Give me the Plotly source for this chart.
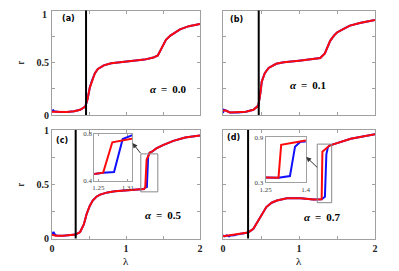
import plotly.graph_objects as go

# ---------------- data ----------------
lam_a_red = [0, 0.1, 0.2, 0.3, 0.38, 0.45, 0.48, 0.51, 0.54, 0.58, 0.62, 0.7, 0.8, 0.95, 1.1, 1.25, 1.37, 1.43, 1.47, 1.5, 1.54, 1.6, 1.73, 1.85, 2.0]
r_a_red = [0.032, 0.028, 0.028, 0.035, 0.05, 0.08, 0.15, 0.26, 0.33, 0.40, 0.44, 0.475, 0.495, 0.51, 0.52, 0.53, 0.55, 0.57, 0.62, 0.67, 0.72, 0.76, 0.82, 0.85, 0.87]
lam_a_blue = [0, 0.015, 0.03, 0.1, 0.2, 0.3, 0.38, 0.45, 0.48, 0.51, 0.54, 0.58, 0.62, 0.7, 0.8, 0.95, 1.1, 1.25, 1.37, 1.43, 1.47, 1.5, 1.54, 1.6, 1.73, 1.85, 2.0]
r_a_blue = [0.03, 0.045, 0.035, 0.028, 0.028, 0.035, 0.05, 0.08, 0.15, 0.26, 0.33, 0.40, 0.44, 0.475, 0.495, 0.51, 0.52, 0.53, 0.55, 0.57, 0.62, 0.67, 0.72, 0.76, 0.82, 0.85, 0.87]

lam_b_red = [0, 0.03, 0.09, 0.2, 0.3, 0.4, 0.465, 0.49, 0.51, 0.55, 0.6, 0.7, 0.8, 1.0, 1.15, 1.28, 1.34, 1.38, 1.41, 1.46, 1.5, 1.6, 1.67, 1.8, 2.0]
r_b_red = [0.04, 0.045, 0.025, 0.025, 0.032, 0.05, 0.09, 0.2, 0.32, 0.40, 0.45, 0.49, 0.505, 0.52, 0.53, 0.545, 0.59, 0.66, 0.71, 0.76, 0.79, 0.83, 0.855, 0.88, 0.91]
lam_b_blue = [0, 0.01, 0.03, 0.09, 0.2, 0.3, 0.4, 0.465, 0.49, 0.51, 0.55, 0.6, 0.7, 0.8, 1.0, 1.15, 1.28, 1.34, 1.38, 1.41, 1.46, 1.5, 1.6, 1.67, 1.8, 2.0]
r_b_blue = [0.02, 0.05, 0.045, 0.025, 0.025, 0.032, 0.05, 0.09, 0.2, 0.32, 0.40, 0.45, 0.49, 0.505, 0.52, 0.53, 0.545, 0.59, 0.66, 0.71, 0.76, 0.79, 0.83, 0.855, 0.88, 0.91]

lam_c_red = [0, 0.05, 0.15, 0.25, 0.32, 0.38, 0.43, 0.47, 0.51, 0.55, 0.6, 0.65, 0.75, 0.85, 1.0, 1.1, 1.2, 1.242, 1.26, 1.2785, 1.30, 1.319, 1.35, 1.41, 1.5, 1.64, 1.8, 2.0]
r_c_red = [0.036, 0.026, 0.025, 0.03, 0.036, 0.06, 0.13, 0.23, 0.30, 0.35, 0.385, 0.405, 0.425, 0.435, 0.442, 0.447, 0.452, 0.457, 0.469, 0.729, 0.758, 0.79, 0.80, 0.83, 0.86, 0.90, 0.93, 0.95]
lam_c_blue = [0, 0.02, 0.04, 0.06, 0.15, 0.25, 0.32, 0.38, 0.43, 0.47, 0.51, 0.55, 0.6, 0.65, 0.75, 0.85, 1.0, 1.1, 1.2, 1.242, 1.26, 1.282, 1.2995, 1.319, 1.35, 1.41, 1.5, 1.64, 1.8, 2.0]
r_c_blue = [0.03, 0.06, 0.035, 0.028, 0.025, 0.03, 0.036, 0.06, 0.13, 0.23, 0.30, 0.35, 0.385, 0.405, 0.425, 0.435, 0.442, 0.447, 0.452, 0.457, 0.469, 0.474, 0.757, 0.79, 0.80, 0.83, 0.86, 0.90, 0.93, 0.95]

lam_d_red = [0, 0.05, 0.1, 0.2, 0.33, 0.4, 0.45, 0.49, 0.53, 0.57, 0.64, 0.71, 0.84, 1.02, 1.19, 1.25, 1.298, 1.308, 1.4, 1.46, 1.68, 2.0]
r_d_red = [0.02, 0.025, 0.03, 0.04, 0.055, 0.09, 0.15, 0.2, 0.25, 0.29, 0.33, 0.35, 0.37, 0.37, 0.36, 0.36, 0.362, 0.80, 0.856, 0.87, 0.92, 0.96]
lam_d_blue = [0, 0.02, 0.05, 0.08, 0.1, 0.15, 0.2, 0.33, 0.4, 0.45, 0.49, 0.53, 0.57, 0.64, 0.71, 0.84, 1.02, 1.19, 1.25, 1.298, 1.341, 1.36, 1.38, 1.4, 1.46, 1.68, 2.0]
r_d_blue = [0.03, 0.02, 0.03, 0.02, 0.028, 0.03, 0.04, 0.055, 0.09, 0.15, 0.2, 0.25, 0.29, 0.33, 0.35, 0.37, 0.37, 0.36, 0.36, 0.362, 0.384, 0.775, 0.84, 0.856, 0.87, 0.92, 0.96]

panel_labels = ["(a)", "(b)", "(c)", "(d)"]
alpha_values = ["0.0", "0.1", "0.5", "0.7"]
critical_lam = [0.46, 0.47, 0.32, 0.33]

x_ticks = [0, 0.5, 1, 1.5, 2]
x_ticktext = ["0", "", "1", "", "2"]
y_ticks = [0, 0.25, 0.5, 0.75, 1]
y_ticktext = ["0", "", "0.5", "", "1"]

RED = "#ff0a0a"
BLUE = "#1010ff"
FRAME = "#a0a0a0"
SERIF = "Liberation Serif, Times New Roman, serif"

# the page body keeps an 8px margin: positions are given in window pixels
OFF = 8
W, H = 391, 263
def px_x(p):
    return (p - OFF) / W
def px_y(p):
    return 1 - (p - OFF) / H

fig = go.Figure()

series = [
    (lam_a_red, r_a_red, lam_a_blue, r_a_blue),
    (lam_b_red, r_b_red, lam_b_blue, r_b_blue),
    (lam_c_red, r_c_red, lam_c_blue, r_c_blue),
    (lam_d_red, r_d_red, lam_d_blue, r_d_blue),
]

main_dom = [
    ([px_x(52), px_x(200)], [px_y(115), px_y(10.5)]),
    ([px_x(223), px_x(375)], [px_y(115), px_y(10.5)]),
    ([px_x(52), px_x(200)], [px_y(238.5), px_y(130)]),
    ([px_x(223), px_x(375)], [px_y(238.5), px_y(130)]),
]

for i, (lr, rr, lb, rb) in enumerate(series):
    xa = "x" if i == 0 else f"x{i+1}"
    ya = "y" if i == 0 else f"y{i+1}"
    fig.add_trace(go.Scatter(x=lb, y=rb, mode="lines", line=dict(color=BLUE, width=2), xaxis=xa, yaxis=ya, showlegend=False))
    fig.add_trace(go.Scatter(x=lr, y=rr, mode="lines", line=dict(color=RED, width=2), xaxis=xa, yaxis=ya, showlegend=False))

fig.add_trace(go.Scatter(x=lam_c_blue, y=r_c_blue, mode="lines", line=dict(color=BLUE, width=2), xaxis="x5", yaxis="y5", showlegend=False))
fig.add_trace(go.Scatter(x=lam_c_red, y=r_c_red, mode="lines", line=dict(color=RED, width=2), xaxis="x5", yaxis="y5", showlegend=False))
fig.add_trace(go.Scatter(x=lam_d_blue, y=r_d_blue, mode="lines", line=dict(color=BLUE, width=2), xaxis="x6", yaxis="y6", showlegend=False))
fig.add_trace(go.Scatter(x=lam_d_red, y=r_d_red, mode="lines", line=dict(color=RED, width=2), xaxis="x6", yaxis="y6", showlegend=False))

tickfont = dict(family=SERIF, size=10, color="#222", weight="bold")
layout = dict(width=W, height=H, margin=dict(l=0, r=0, t=0, b=0, autoexpand=False),
              paper_bgcolor="white", plot_bgcolor="white", showlegend=False)

for i in range(4):
    xd, yd = main_dom[i]
    xn = "xaxis" if i == 0 else f"xaxis{i+1}"
    yn = "yaxis" if i == 0 else f"yaxis{i+1}"
    ya_ref = "y" if i == 0 else f"y{i+1}"
    xa_ref = "x" if i == 0 else f"x{i+1}"
    # the top label "1" of panel (a) would touch the page edge; it is drawn as an annotation below
    ytext = y_ticktext[:-1] + [""] if i == 0 else y_ticktext
    layout[xn] = dict(domain=xd, anchor=ya_ref, range=[0, 2], tickvals=x_ticks,
                      ticktext=x_ticktext, showticklabels=(i >= 2), ticks="inside", ticklen=3,
                      tickcolor=FRAME, showline=True, mirror="ticks", linecolor=FRAME, linewidth=1,
                      showgrid=False, zeroline=False, tickfont=tickfont, automargin=False,
                      ticklabeloverflow="allow")
    layout[yn] = dict(domain=yd, anchor=xa_ref, range=[0, 1], tickvals=y_ticks,
                      ticktext=ytext, showticklabels=(i % 2 == 0), ticks="inside", ticklen=3,
                      tickcolor=FRAME, showline=True, mirror="ticks", linecolor=FRAME, linewidth=1,
                      showgrid=False, zeroline=False, tickfont=tickfont, automargin=False,
                      ticklabeloverflow="allow")

insetfont = dict(family=SERIF, size=7, color="#444")
inset_common = dict(ticks="inside", ticklen=2, tickcolor=FRAME, showline=True, mirror="ticks",
                    linecolor=FRAME, showgrid=False, zeroline=False, tickfont=insetfont, automargin=False,
                    ticklabeloverflow="allow")
layout["xaxis5"] = dict(domain=[px_x(94.3), px_x(132.3)], anchor="y5", range=[1.242, 1.319],
                        tickvals=[1.25, 1.31], ticktext=["1.25", "1.31"], **inset_common)
layout["yaxis5"] = dict(domain=[px_y(180.7), px_y(134)], anchor="x5", range=[0.4, 0.8],
                        tickvals=[0.4, 0.8], ticktext=["0.4", "0.8"], **inset_common)
layout["xaxis6"] = dict(domain=[px_x(265.7), px_x(305.7)], anchor="y6", range=[1.25, 1.4],
                        tickvals=[1.25, 1.4], ticktext=["1.25", "1.4"], **inset_common)
layout["yaxis6"] = dict(domain=[px_y(182.3), px_y(137.3)], anchor="x6", range=[0.3, 0.9],
                        tickvals=[0.3, 0.9], ticktext=["0.3", "0.9"], **inset_common)

fig.update_layout(**layout)

shapes = []
for i, lc in enumerate(critical_lam):
    xa_ref = "x" if i == 0 else f"x{i+1}"
    ya_ref = "y" if i == 0 else f"y{i+1}"
    shapes.append(dict(type="line", xref=xa_ref, yref=f"{ya_ref} domain", x0=lc, x1=lc, y0=0, y1=1,
                       line=dict(color="black", width=2)))
shapes.append(dict(type="rect", xref="x3", yref="y3", x0=1.2, x1=1.43, y0=0.43, y1=0.78,
                   line=dict(color="#888", width=1)))
shapes.append(dict(type="rect", xref="x4", yref="y4", x0=1.24, x1=1.43, y0=0.33, y1=0.87,
                   line=dict(color="#888", width=1)))
fig.update_layout(shapes=shapes)

ann = []
lab_pos = [(68, 18.5), (236, 20), (62, 140), (233, 137)]
alpha_pos = [(168, 89), (308, 85), (163, 215), (322, 217)]
C = dict(xref="paper", yref="paper", showarrow=False, xanchor="center", yanchor="middle")
for i in range(4):
    ann.append(dict(text=panel_labels[i], x=px_x(lab_pos[i][0]), y=px_y(lab_pos[i][1]),
                    font=dict(family="DejaVu Sans", size=8, color="black", weight="bold"), **C))
    ann.append(dict(text="<i>α</i>\u2009 = \u2009" + alpha_values[i], x=px_x(alpha_pos[i][0]), y=px_y(alpha_pos[i][1]),
                    font=dict(family=SERIF, size=11, color="black", weight="bold"), **C))
# top tick label "1" of panel (a)
ann.append(dict(text=y_ticktext[-1], x=px_x(47.5), y=1.0, xref="paper", yref="paper", showarrow=False,
                xanchor="right", yanchor="top", borderpad=0,
                font=dict(family=SERIF, size=10, color="#222", weight="bold")))
for yy in (63, 185):
    ann.append(dict(text="r", x=px_x(19.5), y=px_y(yy), textangle=-90,
                    font=dict(family=SERIF, size=11, color="black"), **C))
for xx in (126, 299):
    ann.append(dict(text="λ", x=px_x(xx), y=px_y(260.5),
                    font=dict(family=SERIF, size=11, color="black"), **C))
ann.append(dict(x=1.088, y=0.88, xref="x3", yref="y3", ax=1.212, ay=0.773, axref="x3", ayref="y3",
                showarrow=True, arrowhead=2, arrowsize=1, arrowwidth=1, arrowcolor="#333", text=""))
ann.append(dict(x=1.095, y=0.752, xref="x4", yref="y4", ax=1.258, ay=0.643, axref="x4", ayref="y4",
                showarrow=True, arrowhead=2, arrowsize=1, arrowwidth=1, arrowcolor="#333", text=""))
fig.update_layout(annotations=ann)

fig.write_html("out.html")
